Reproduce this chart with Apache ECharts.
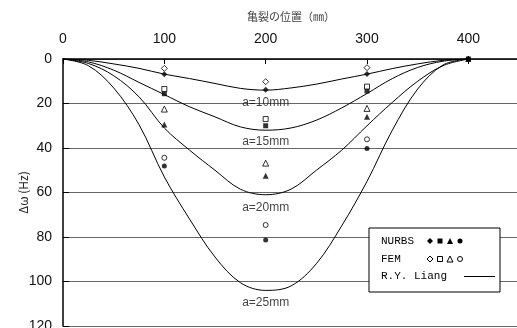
<!DOCTYPE html>
<html><head><meta charset="utf-8">
<script src="https://cdn.jsdelivr.net/npm/echarts@6/dist/echarts.min.js"></script>
<style>html,body{margin:0;padding:0;background:#fff;overflow:hidden}#c{width:517px;height:328px}</style>
</head><body><div id="c"></div>
<script>
// crack position (mm) for the analytic (R.Y. Liang) curves
const xCurve = [0,25,50,75,100,125,150,175,200,225,250,275,300,325,350,375,400];
const liangA10 = [0,0.6,2.2,4.2,6.8,8.8,11,13.2,14,13,11.3,9,6.8,4.3,2.2,0.6,0];
const liangA15 = [0,1.3,5,10.5,16,21.5,26,30.5,32,31,27.5,22,15.5,8.8,3.8,1,0];
const liangA20 = [0,2,7.5,17,31,41,50,58.5,61,58.5,50,41,30,19.5,10,3,0];
const liangA25 = [0,3,13,29.5,53,72,89,100.5,104,102,92,75,55,32,13.5,2.7,0];

// discrete results
const xNurbs = [100,200,300,400];
const nurbsA10 = [6.8,13.8,6.7,0];
const nurbsA15 = [15.6,30,14.4,0];
const nurbsA20 = [29.4,52.5,26,0];
const nurbsA25 = [48.1,81.3,40.2,0];
const xFem = [100,200,300];
const femA10 = [4.2,10.2,3.9];
const femA15 = [13.5,27,12.4];
const femA20 = [22.5,46.8,22.2];
const femA25 = [44.4,74.6,36.1];

// curve annotations
const curveNames = ['a=10mm','a=15mm','a=20mm','a=25mm'];
const annotX = [200,200,200,200];
const annotY = [19.8,37,67,109.5];

const xTicks = [0,100,200,300,400];
const yTicks = [0,20,40,60,80,100,120];

const zip = (xs, ys) => xs.map((x,i)=>[x, ys[i]]);
const lineSeries = (d) => ({type:'line', data: zip(xCurve,d), smooth:0.35, showSymbol:false,
  lineStyle:{color:'#000', width:1}, silent:true, z:2});
const filled = (sym, xs, d, size) => ({type:'scatter', data: zip(xs,d), symbol:sym, symbolSize:size,
  itemStyle:{color:'#000'}, z:4});
const open = (sym, xs, d, size) => ({type:'scatter', data: zip(xs,d), symbol:sym, symbolSize:size,
  itemStyle:{color:'#fff', borderColor:'#000', borderWidth:1}, z:4});

const chart = echarts.init(document.getElementById('c'), null, {renderer:'canvas'});
const LX = 369, LY = 228;
const sx = [430, 440, 450, 460];
const r1 = LY+13, r2 = LY+31, r3 = LY+48;
chart.setOption({
  animation:false,
  backgroundColor:'#fff',
  grid:{left:63, top:59, right:-2, bottom:2, containLabel:false, outerBoundsMode:'none'},
  xAxis:{type:'value', position:'top', min:0, max:450, interval:100,
    name:'亀裂の位置（㎜）', nameLocation:'middle', nameGap:37, nameMoveOverlap:false,
    nameTextStyle:{fontFamily:'Noto Sans CJK JP', fontSize:11, color:'#444'},
    axisLine:{show:true, lineStyle:{color:'#000', width:1.5}},
    axisTick:{show:true, inside:true, length:5, lineStyle:{color:'#000'}},
    axisLabel:{margin:13, fontFamily:'Liberation Sans', fontSize:14, color:'#111', showMaxLabel:false,
      formatter:(v)=> xTicks.includes(v) ? String(v) : ''},
    splitLine:{show:false}},
  yAxis:{type:'value', inverse:true, min:0, max:120, interval:20,
    name:'Δω (Hz)', nameLocation:'middle', nameGap:34, nameMoveOverlap:false,
    nameTextStyle:{fontFamily:'Noto Sans CJK JP', fontSize:12, color:'#222'},
    axisLine:{show:true, lineStyle:{color:'#000', width:1.5}},
    axisTick:{show:true, inside:true, length:6, lineStyle:{color:'#000'}},
    axisLabel:{margin:11, fontFamily:'Liberation Sans', fontSize:14, color:'#111',
      formatter:(v)=> yTicks.includes(v) ? String(v) : ''},
    splitLine:{show:true, lineStyle:{color:'#666', width:1}}},
  series:[
    lineSeries(liangA10), lineSeries(liangA15), lineSeries(liangA20), lineSeries(liangA25),
    filled('diamond', xNurbs, nurbsA10, 6),
    filled('rect', xNurbs, nurbsA15, 5),
    filled('triangle', xNurbs, nurbsA20, 6),
    filled('circle', xNurbs, nurbsA25, 5),
    open('diamond', xFem, femA10, 6),
    open('rect', xFem, femA15, 5),
    open('triangle', xFem, femA20, 6),
    open('circle', xFem, femA25, 5),
    {type:'scatter', data: annotX.map((x,i)=>({value:[x, annotY[i]], name:curveNames[i]})),
      symbolSize:0, z:3, silent:true,
      label:{show:true, position:'inside', formatter:(p)=>p.name,
        fontFamily:'Liberation Sans', fontSize:12, color:'#111'}}
  ],
  graphic:[
    {type:'rect', shape:{x:LX, y:LY, width:131, height:64}, style:{fill:'#fff', stroke:'#000', lineWidth:1}, z:10},
    {type:'text', x:LX+12, y:r1, style:{text:'NURBS', font:'11px "Liberation Mono"', fill:'#000', verticalAlign:'middle'}, z:11},
    {type:'text', x:LX+12, y:r2, style:{text:'FEM', font:'11px "Liberation Mono"', fill:'#000', verticalAlign:'middle'}, z:11},
    {type:'text', x:LX+12, y:r3, style:{text:'R.Y. Liang', font:'11px "Liberation Mono"', fill:'#000', verticalAlign:'middle'}, z:11},
    // NURBS row symbols
    {type:'polygon', shape:{points:[[sx[0],r1-3],[sx[0]+3,r1],[sx[0],r1+3],[sx[0]-3,r1]]}, style:{fill:'#000'}, z:11},
    {type:'rect', shape:{x:sx[1]-2.5, y:r1-2.5, width:5, height:5}, style:{fill:'#000'}, z:11},
    {type:'polygon', shape:{points:[[sx[2],r1-3],[sx[2]+3,r1+3],[sx[2]-3,r1+3]]}, style:{fill:'#000'}, z:11},
    {type:'circle', shape:{cx:sx[3], cy:r1, r:2.5}, style:{fill:'#000'}, z:11},
    // FEM row symbols
    {type:'polygon', shape:{points:[[sx[0],r2-3],[sx[0]+3,r2],[sx[0],r2+3],[sx[0]-3,r2]]}, style:{fill:'#fff', stroke:'#000', lineWidth:1}, z:11},
    {type:'rect', shape:{x:sx[1]-2.5, y:r2-2.5, width:5, height:5}, style:{fill:'#fff', stroke:'#000', lineWidth:1}, z:11},
    {type:'polygon', shape:{points:[[sx[2],r2-3],[sx[2]+3,r2+3],[sx[2]-3,r2+3]]}, style:{fill:'#fff', stroke:'#000', lineWidth:1}, z:11},
    {type:'circle', shape:{cx:sx[3], cy:r2, r:2.5}, style:{fill:'#fff', stroke:'#000', lineWidth:1}, z:11},
    // Liang line
    {type:'line', shape:{x1:464, y1:r3+0.5, x2:495, y2:r3+0.5}, style:{stroke:'#000', lineWidth:1}, z:11}
  ]
});
</script></body></html>
